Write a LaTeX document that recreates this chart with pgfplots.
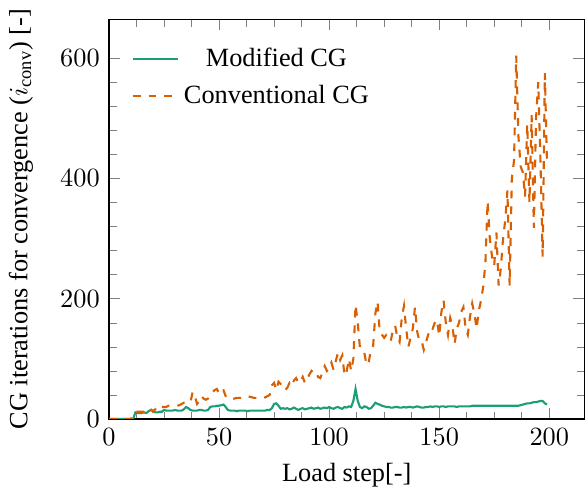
\documentclass[border=0pt]{standalone}
\usepackage{fontspec}
\setmainfont{Liberation Serif}
\usepackage{pgfplots}
\pgfplotsset{compat=1.18}
\usepackage{pgfplotstable}
\definecolor{cgreen}{HTML}{1B9E77}
\definecolor{corange}{HTML}{D95F02}

\pgfplotstableread{
x y
0 0
1 0
2 0
3 0
4 0
5 0
6 0
7 0
8 0
9 0
10 0
11 0
12 11
13 10
14 10
15 10
16 11
17 10
18 13
19 15
20 14
21 11
22 11
23 12
24 12
25 15
26 14
27 14
28 14
29 14
30 15
31 14
32 14
33 14
34 16
35 20
36 18
37 15
38 14
39 14
40 14
41 15
42 15
43 14
44 14
45 15
46 20
47 21
48 21
49 22
50 22
51 23
52 24
53 20
54 15
55 14
56 14
57 14
58 13
59 14
60 14
61 14
62 14
63 13
64 14
65 14
66 14
67 14
68 14
69 14
70 14
71 14
72 15
73 15
74 18
75 25
76 26
77 22
78 17
79 18
80 17
81 18
82 16
83 17
84 19
85 17
86 15
87 17
88 18
89 16
90 17
91 18
92 19
93 17
94 18
95 19
96 17
97 18
98 19
99 18
100 20
101 18
102 17
103 19
104 20
105 18
106 17
107 20
108 19
109 21
110 20
111 30
112 50
113 30
114 20
115 18
116 21
117 20
118 17
119 18
120 22
121 27
122 25
123 24
124 22
125 21
126 20
127 20
128 19
129 19
130 20
131 20
132 19
133 19
134 20
135 19
136 20
137 20
138 19
139 20
140 21
141 20
142 19
143 19
144 20
145 20
146 21
147 20
148 21
149 21
150 20
151 21
152 21
153 20
154 21
155 21
156 21
157 21
158 20
159 21
160 21
161 21
162 21
163 21
164 21
165 22
166 22
167 22
168 22
169 22
170 22
171 22
172 22
173 22
174 22
175 22
176 22
177 22
178 22
179 22
180 22
181 22
182 22
183 22
184 22
185 22
186 22
187 23
188 24
189 25
190 26
191 26
192 27
193 28
194 28
195 29
196 30
197 30
198 26
199 24
}\modtab

\pgfplotstableread{
x y
0 0
1 0
2 0
3 0
4 0
5 0
6 0
7 0
8 0
9 0
10 0
11 8
12 12
13 12
14 12
15 12
16 12
17 14
18 18
19 16
20 12
21 16
22 22
23 20
24 20
25 20
26 20
27 22
28 22
29 22
30 22
31 22
32 23
33 25
34 27
35 27
36 28
37 28
38 45
39 38
40 25
41 30
42 38
43 34
44 32
45 34
46 38
47 45
48 48
49 50
50 42
51 48
52 48
53 38
54 34
55 33
56 33
57 34
58 35
59 35
60 35
61 35
62 36
63 37
64 37
65 36
66 35
67 35
68 35
69 34
70 35
71 36
72 38
73 40
74 56
75 60
76 48
77 62
78 58
79 50
80 48
81 52
82 60
83 55
84 64
85 68
86 60
87 62
88 70
89 60
90 66
91 74
92 80
93 76
94 78
95 70
96 68
97 78
98 88
99 80
100 86
101 94
102 82
103 96
104 110
105 98
106 106
107 72
108 80
109 100
110 80
111 100
112 190
113 160
114 118
115 112
116 110
117 90
118 95
119 115
120 122
121 175
122 195
123 145
124 140
125 135
126 140
127 138
128 130
129 148
130 155
131 135
132 128
133 168
134 188
135 150
136 120
137 135
138 150
139 186
140 145
141 130
142 130
143 115
144 128
145 140
146 152
147 150
148 160
149 165
150 138
151 178
152 197
153 160
154 140
155 168
156 155
157 125
158 150
159 160
160 178
161 186
162 150
163 140
164 170
165 192
166 175
167 150
168 180
169 197
170 220
171 260
172 362
173 300
174 270
175 255
176 310
177 222
178 250
179 300
180 330
181 380
182 222
183 400
184 430
185 604
186 470
187 420
188 410
189 370
190 490
191 360
192 505
193 318
194 500
195 560
196 430
197 270
198 575
199 420
}\contab

\begin{document}
\begin{tikzpicture}
\begin{axis}[
  scale only axis,
  width=180.7pt, height=152pt,
  xmin=0, xmax=216,
  ymin=0, ymax=665,
  xtick={0,50,100,150,200},
  ytick={0,200,400,600},
  minor x tick num=3,
  minor y tick num=4,
  xlabel={Load step[-]},
  ylabel={CG iterations for convergence ($i_{\mathrm{conv}}$) [-]},
  ylabel shift=3.5pt,
  legend style={draw=none, fill=none, at={(0.03,0.955)}, anchor=north west,
    row sep=1.5pt},
  legend cell align=center,
]
\addplot[cgreen, thick] table[x=x, y=y] {\modtab};
\addlegendentry{Modified CG}
\addplot[corange, thick, dashed] table[x=x, y=y] {\contab};
\addlegendentry{Conventional CG}
\end{axis}
\end{tikzpicture}
\end{document}
